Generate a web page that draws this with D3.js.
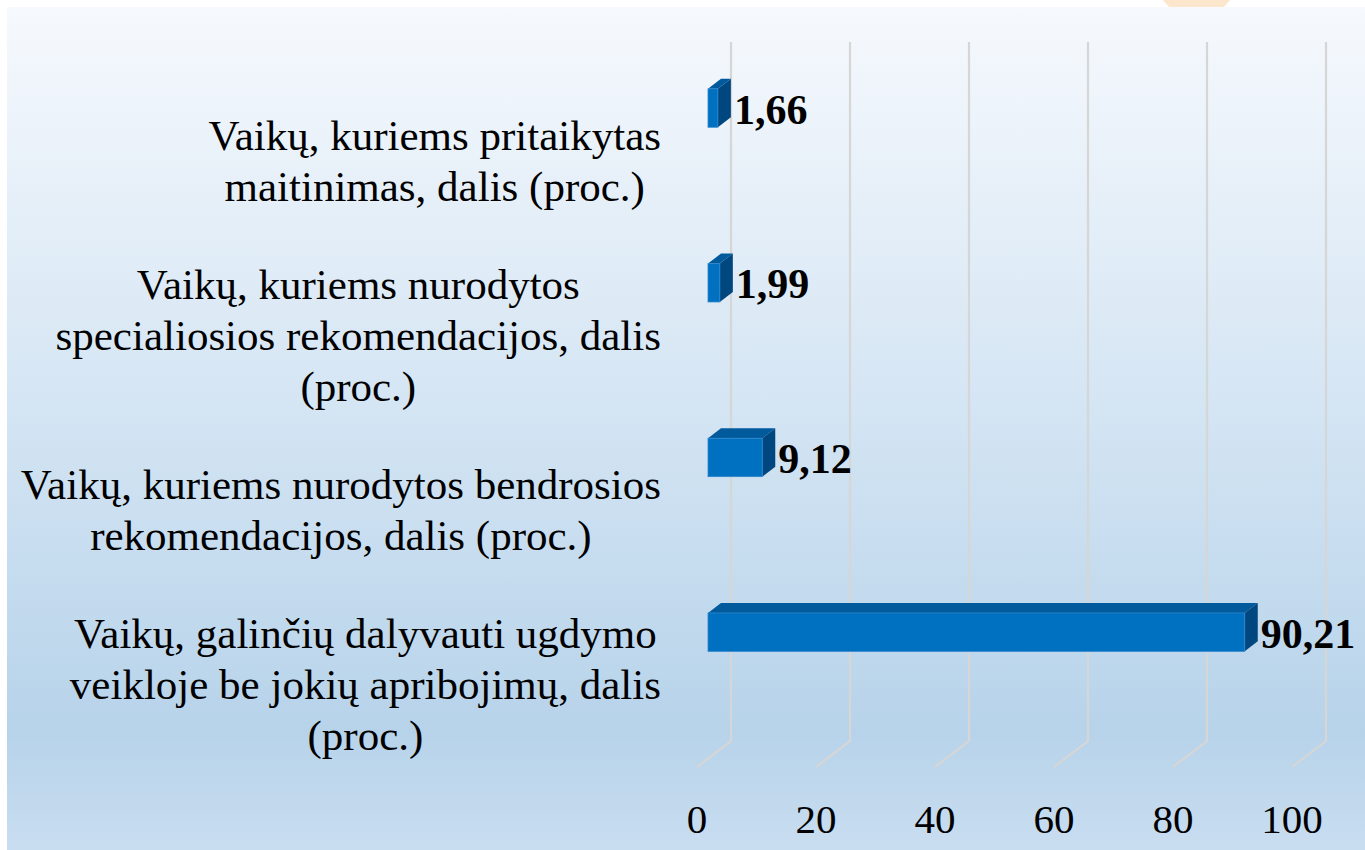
<!DOCTYPE html>
<html><head><meta charset="utf-8">
<script src="https://cdn.jsdelivr.net/npm/d3@7"></script>
<style>html,body{margin:0;padding:0;background:#fff;}svg{display:block;}</style>
</head><body>
<svg id="chart" width="1365" height="850"></svg>
<script>
const categories = [
  "Vaikų, kuriems pritaikytas maitinimas, dalis (proc.)",
  "Vaikų, kuriems nurodytos specialiosios rekomendacijos, dalis (proc.)",
  "Vaikų, kuriems nurodytos bendrosios rekomendacijos, dalis (proc.)",
  "Vaikų, galinčių dalyvauti ugdymo veikloje be jokių apribojimų, dalis (proc.)"
];
const categoryLines = [
  ["Vaikų, kuriems pritaikytas", "maitinimas, dalis (proc.)"],
  ["Vaikų, kuriems nurodytos", "specialiosios rekomendacijos, dalis", "(proc.)"],
  ["Vaikų, kuriems nurodytos bendrosios", "rekomendacijos, dalis (proc.)"],
  ["Vaikų, galinčių dalyvauti ugdymo", "veikloje be jokių apribojimų, dalis", "(proc.)"]
];
const values = [1.66, 1.99, 9.12, 90.21];
const valueLabels = ["1,66", "1,99", "9,12", "90,21"];
const tickValues = [0, 20, 40, 60, 80, 100];

const svg = d3.select("#chart");
const defs = svg.append("defs");
const grad = defs.append("linearGradient").attr("id","bg").attr("x1",0).attr("y1",0).attr("x2",0).attr("y2",1);
grad.append("stop").attr("offset","0").attr("stop-color","#f6f9fd");
grad.append("stop").attr("offset","0.45").attr("stop-color","#d6e6f4");
grad.append("stop").attr("offset","0.86").attr("stop-color","#b7d3ea");
grad.append("stop").attr("offset","1").attr("stop-color","#c9ddf0");

svg.append("rect").attr("x",7).attr("y",7).attr("width",1358).attr("height",843).attr("fill","url(#bg)");
// small orange shape peeking at the top
svg.append("path").attr("d","M1163,0 L1230,0 L1224,7 L1169,7 Z").attr("fill","#fde7cc");

const x = d3.scaleLinear().domain([0,100]).range([708, 1303]);
const y = d3.scaleBand().domain(categories).range([20.7, 719.5]).paddingInner(0.78).paddingOuter(0.39);

const DX = 13, DY = -10;      // bar depth
const BACK = 23;              // back wall offset from bar front
const FDX = -34, FDY = 26;    // floor depth

const grid = svg.append("g");
const gTop = 42, gBot = 741;
tickValues.forEach(t => {
  const xb = x(t) + BACK;
  grid.append("path")
    .attr("d", `M${xb},${gTop} L${xb},${gBot} L${xb+FDX},${gBot+FDY}`)
    .attr("fill","none").attr("stroke","#d6d6d6").attr("stroke-width",2.2);
});

// tick labels
svg.append("g").selectAll("text").data(tickValues).join("text")
  .attr("x", d => x(d) + BACK + FDX)
  .attr("y", 819).attr("dy","0.35em")
  .attr("text-anchor","middle")
  .attr("font-family","'Liberation Serif','Times New Roman',serif")
  .attr("font-size",41).attr("fill","#000")
  .text(d => d);

// bars
const bars = svg.append("g");
categories.forEach((c,i) => {
  const x0 = x(0), x1 = x(values[i]);
  const y0 = y(c), h = y.bandwidth(), y1 = y0 + h;
  bars.append("path").attr("d",`M${x0},${y0} L${x0+DX},${y0+DY} L${x1+DX},${y0+DY} L${x1},${y0} Z`).attr("fill","#005a9c");
  bars.append("path").attr("d",`M${x1},${y0} L${x1+DX},${y0+DY} L${x1+DX},${y1+DY} L${x1},${y1} Z`).attr("fill","#00477f");
  bars.append("rect").attr("x",x0).attr("y",y0).attr("width",x1-x0).attr("height",h)
    .attr("fill","#0070c0").attr("stroke","#2f86cc").attr("stroke-width",0.8);
  svg.append("text").attr("x", x1 + DX + 3).attr("y", y0 + h/2 + 1).attr("dy","0.35em")
    .attr("font-family","'Liberation Serif','Times New Roman',serif")
    .attr("font-weight","bold").attr("font-size",42).attr("fill","#000")
    .text(valueLabels[i]);
});

// category labels: centered lines in a block right-aligned at 661
const labG = svg.append("g");
categories.forEach((c,i) => {
  const lines = categoryLines[i];
  const cy = y(c) + y.bandwidth()/2 + 52;
  const lh = 51;
  const g = labG.append("g");
  const texts = lines.map((ln,j) => g.append("text")
    .attr("y", cy + (j - (lines.length-1)/2)*lh).attr("dy","0.35em")
    .attr("text-anchor","middle")
    .attr("font-family","'Liberation Serif','Times New Roman',serif")
    .attr("font-size",43).attr("fill","#000").text(ln));
  const maxW = d3.max(texts, t => t.node().getComputedTextLength());
  const cx = 661 - maxW/2;
  texts.forEach(t => t.attr("x", cx));
});
</script>
</body></html>
